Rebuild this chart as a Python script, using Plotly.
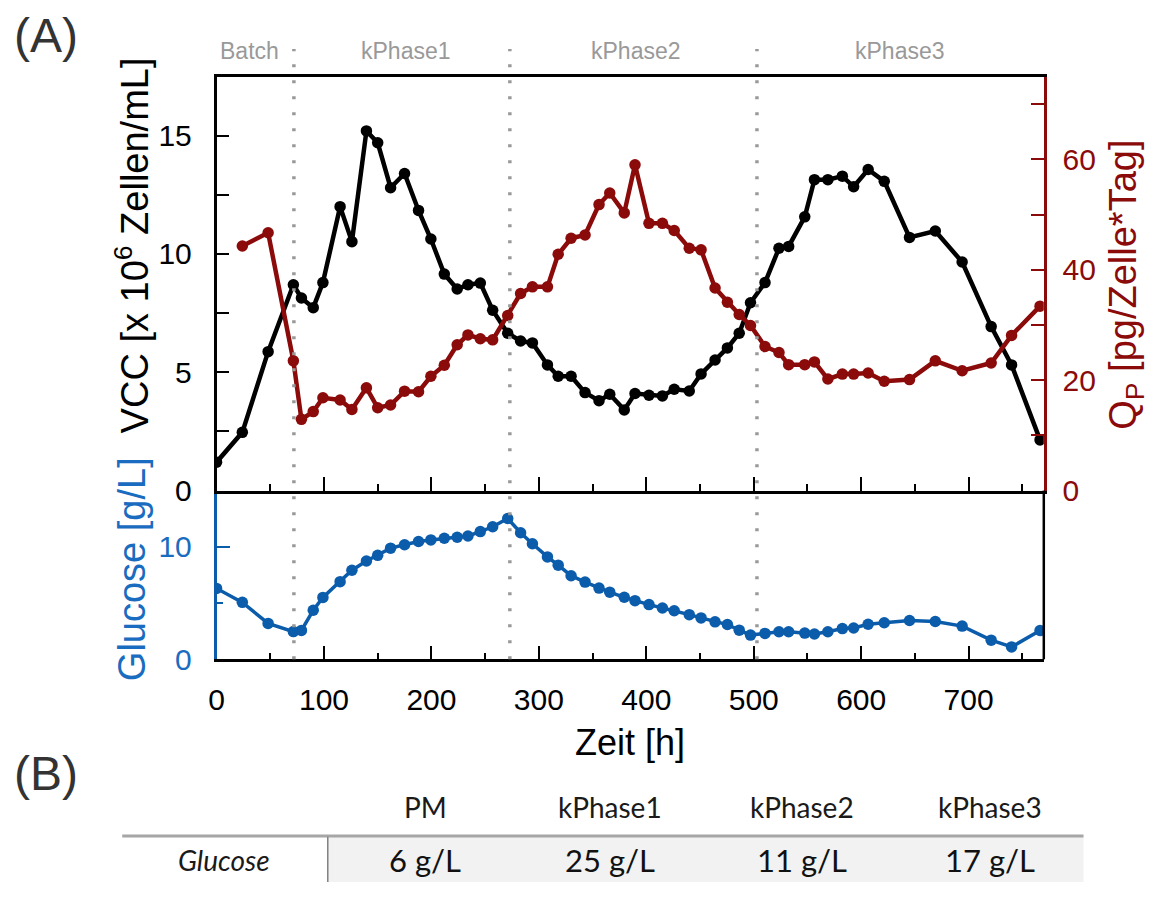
import plotly.graph_objects as go

# ---------------- data ----------------
time_h = [0, 24, 48, 71.5, 79, 90, 99, 115, 126, 139.5, 150, 162, 175, 188, 199.5,
          212, 224, 234, 245.5, 257, 271, 283, 294, 308, 318, 330, 343, 356, 366,
          379.5, 389.5, 402.5, 415, 426, 440, 451, 464, 475.5, 486.5, 497, 510.5,
          523.5, 532.5, 547.5, 556.5, 569, 582.5, 593, 606.5, 621.5, 645, 669, 694,
          721, 740, 766.5]

vcc = [1.2, 2.46, 5.87, 8.7, 8.14, 7.73, 8.79, 12.0, 10.52, 15.2, 14.7, 12.8, 13.4,
       11.84, 10.63, 9.15, 8.52, 8.7, 8.77, 7.62, 6.65, 6.32, 6.24, 5.31, 4.83, 4.83,
       4.14, 3.8, 4.07, 3.41, 4.1, 4.03, 4.0, 4.28, 4.21, 4.93, 5.52, 6.03, 6.65, 7.94,
       8.79, 10.24, 10.32, 11.57, 13.14, 13.14, 13.29, 12.84, 13.57, 13.07, 10.7,
       10.97, 9.66, 6.93, 5.31, 2.14]

qp_time_h = time_h[1:]
qp = [44.3, 46.7, 23.5, 12.9, 14.3, 16.8, 16.4, 14.7, 18.6, 15.0, 15.5, 18.0, 17.9,
      20.7, 22.7, 26.4, 28.2, 27.5, 27.3, 31.7, 35.7, 36.9, 36.9, 42.8, 45.7, 46.3,
      51.8, 53.9, 50.3, 59.0, 48.4, 48.4, 47.1, 43.9, 43.6, 36.7, 34.1, 31.9, 29.9,
      26.1, 25.0, 22.8, 22.8, 23.3, 20.2, 21.1, 21.1, 21.3, 19.8, 20.1, 23.5, 21.7,
      23.1, 28.1, 33.4]

glucose = [6.3, 5.06, 3.19, 2.46, 2.57, 4.36, 5.5, 6.9, 7.92, 8.74, 9.24, 9.88, 10.18,
           10.47, 10.61, 10.76, 10.85, 10.96, 11.35, 11.78, 12.52, 11.25, 10.27, 9.1,
           8.37, 7.43, 6.86, 6.33, 5.97, 5.51, 5.21, 4.86, 4.56, 4.32, 3.97, 3.68, 3.33,
           3.09, 2.59, 2.15, 2.3, 2.45, 2.45, 2.33, 2.25, 2.45, 2.73, 2.78, 3.12, 3.25,
           3.45, 3.36, 2.95, 1.7, 1.1, 2.56]

phase_bounds_h = [72, 273, 503]
phase_names = ["Batch", "kPhase1", "kPhase2", "kPhase3"]
phase_label_h = [31, 176, 390, 636]

table_cols = ["PM", "kPhase1", "kPhase2", "kPhase3"]
table_row_label = "Glucose"
table_vals = ["6 g/L", "25 g/L", "11 g/L", "17 g/L"]

x_title = "Zeit [h]"
vcc_title = "VCC [x 10<sup>6</sup> Zellen/mL]"
qp_title = "Q<sub>P</sub> [pg/Zelle*Tag]"
glc_title = "Glucose [g/L]"

# ---------------- layout helpers ----------------
W, H = 1159, 899
def fx(px):
    return px / W
def fy(py):
    return 1 - py / H

BLACK = "#000000"
RED = "#8b0a0a"
BLUE = "#0b5cab"
BLUE_T = "#1a6cc0"
GRAY = "#999999"
FONT = "Liberation Sans, Arial, sans-serif"
TFONT = "Lato, Liberation Sans, sans-serif"

XDOM = [fx(210), fx(1043)]
TOPDOM = [fy(500), fy(78)]
BOTDOM = [fy(672), fy(500)]

fig = go.Figure()

fig.add_trace(go.Scatter(x=time_h, y=vcc, xaxis="x2", yaxis="y2", mode="lines+markers",
                         line=dict(color=BLACK, width=4.5), marker=dict(size=11.5, color=BLACK),
                         showlegend=False))
fig.add_trace(go.Scatter(x=qp_time_h, y=qp, xaxis="x2", yaxis="y3", mode="lines+markers",
                         line=dict(color=RED, width=4.5), marker=dict(size=11.5, color=RED),
                         showlegend=False))
fig.add_trace(go.Scatter(x=time_h, y=glucose, xaxis="x", yaxis="y", mode="lines+markers",
                         line=dict(color=BLUE, width=3.5), marker=dict(size=11.5, color=BLUE),
                         showlegend=False))

xcommon = dict(range=[0, 770], dtick=100, tick0=0, ticks="inside", ticklen=14, tickwidth=2,
               tickcolor=BLACK, showline=True, linecolor=BLACK, linewidth=2.5,
               showgrid=False, zeroline=False,
               minor=dict(dtick=50, ticklen=7, tickwidth=2, tickcolor=BLACK, ticks="inside"))

shapes = []
for b in phase_bounds_h:
    shapes.append(dict(type="line", xref="x", yref="paper", x0=b, x1=b,
                       y0=fy(672), y1=fy(50),
                       line=dict(color=GRAY, width=3.5, dash="3px,13px"), layer="above"))
shapes.append(dict(type="line", xref="paper", yref="paper", x0=XDOM[1], x1=XDOM[1],
                   y0=BOTDOM[0], y1=BOTDOM[1], line=dict(color=BLACK, width=2.5)))

shapes.append(dict(type="rect", xref="paper", yref="paper", x0=fx(322), x1=fx(1083),
                   y0=fy(899), y1=fy(852), fillcolor="#f2f2f2", line=dict(width=0), layer="below"))
shapes.append(dict(type="line", xref="paper", yref="paper", x0=fx(115), x1=fx(1083),
                   y0=fy(852), y1=fy(852), line=dict(color="#a6a6a6", width=3)))
shapes.append(dict(type="line", xref="paper", yref="paper", x0=fx(322), x1=fx(322),
                   y0=fy(899), y1=fy(853), line=dict(color="#808080", width=1.5)))

annotations = []
for name, xh in zip(phase_names, phase_label_h):
    annotations.append(dict(text=name, x=xh, xref="x", y=fy(52), yref="paper",
                            showarrow=False, font=dict(family=FONT, size=23, color=GRAY),
                            xanchor="center", yanchor="middle"))
annotations.append(dict(text="(A)", x=fx(4), y=fy(36), xref="paper", yref="paper",
                        showarrow=False, xanchor="left", yanchor="middle",
                        font=dict(family=FONT, size=48, color="#333333")))
annotations.append(dict(text="(B)", x=fx(4), y=fy(788), xref="paper", yref="paper",
                        showarrow=False, xanchor="left", yanchor="middle",
                        font=dict(family=FONT, size=48, color="#333333")))

# axis titles
annotations.append(dict(text=vcc_title, x=fx(125), y=fy(250), xref="paper", yref="paper",
                        textangle=-90, showarrow=False, xanchor="center", yanchor="middle",
                        font=dict(family=FONT, size=38, color=BLACK)))
annotations.append(dict(text=glc_title, x=fx(125), y=fy(580), xref="paper", yref="paper",
                        textangle=-90, showarrow=False, xanchor="center", yanchor="middle",
                        font=dict(family=FONT, size=38, color=BLUE_T)))
annotations.append(dict(text=qp_title, x=fx(1125), y=fy(290), xref="paper", yref="paper",
                        textangle=-90, showarrow=False, xanchor="center", yanchor="middle",
                        font=dict(family=FONT, size=38, color=RED)))
annotations.append(dict(text=x_title, x=fx(626), y=fy(757), xref="paper", yref="paper",
                        showarrow=False, xanchor="center", yanchor="middle",
                        font=dict(family=FONT, size=36, color=BLACK)))

col_px = [420, 606, 800, 989]
for c, v, cx in zip(table_cols, table_vals, col_px):
    annotations.append(dict(text=c, x=fx(cx), y=fy(823), xref="paper", yref="paper",
                            showarrow=False, xanchor="center", yanchor="middle",
                            font=dict(family=TFONT, size=28, color="#1a1a1a")))
    annotations.append(dict(text=v, x=fx(cx), y=fy(877), xref="paper", yref="paper",
                            showarrow=False, xanchor="center", yanchor="middle",
                            font=dict(family=TFONT, size=31, color="#111111")))
annotations.append(dict(text="<i>" + table_row_label + "</i>", x=fx(218), y=fy(877),
                        xref="paper", yref="paper", showarrow=False,
                        xanchor="center", yanchor="middle",
                        font=dict(family=TFONT, size=28, color="#1a1a1a")))

fig.update_layout(
    width=W, height=H, margin=dict(l=0, r=0, t=0, b=0),
    paper_bgcolor="white", plot_bgcolor="white",
    font=dict(family=FONT, color=BLACK),
    xaxis=dict(domain=XDOM, anchor="y", showticklabels=True, ticklabelstandoff=12,
               tickfont=dict(family=FONT, size=30, color=BLACK),
               **xcommon),
    xaxis2=dict(domain=XDOM, anchor="y2", matches="x", showticklabels=False, mirror=True,
                **xcommon),
    yaxis=dict(domain=BOTDOM, anchor="x", range=[0, 15], dtick=10, tick0=0,
               ticks="inside", ticklen=14, tickwidth=2, tickcolor=BLUE,
               showline=True, linecolor=BLUE, linewidth=2.5, showgrid=False, zeroline=False,
               minor=dict(dtick=5, ticklen=7, tickwidth=2, tickcolor=BLUE, ticks="inside"),
               tickfont=dict(family=FONT, size=30, color=BLUE_T), ticklabelstandoff=16),
    yaxis2=dict(domain=TOPDOM, anchor="x2", range=[0, 17.5], dtick=5, tick0=0,
                ticks="inside", ticklen=13, tickwidth=2, tickcolor=BLACK,
                showline=True, linecolor=BLACK, linewidth=2.5, showgrid=False, zeroline=False,
                minor=dict(dtick=2.5, ticklen=13, tickwidth=2, tickcolor=BLACK, ticks="inside"),
                tickfont=dict(family=FONT, size=30, color=BLACK), ticklabelstandoff=16),
    yaxis3=dict(overlaying="y2", anchor="x2", side="right", range=[0, 75], dtick=20, tick0=0,
                ticks="inside", ticklen=13, tickwidth=2, tickcolor=RED,
                showline=True, linecolor=RED, linewidth=2.5, showgrid=False, zeroline=False,
                minor=dict(dtick=10, ticklen=13, tickwidth=2, tickcolor=RED, ticks="inside"),
                tickfont=dict(family=FONT, size=30, color=RED), ticklabelstandoff=10),
    shapes=shapes, annotations=annotations,
)

fig.write_html("out.html")
